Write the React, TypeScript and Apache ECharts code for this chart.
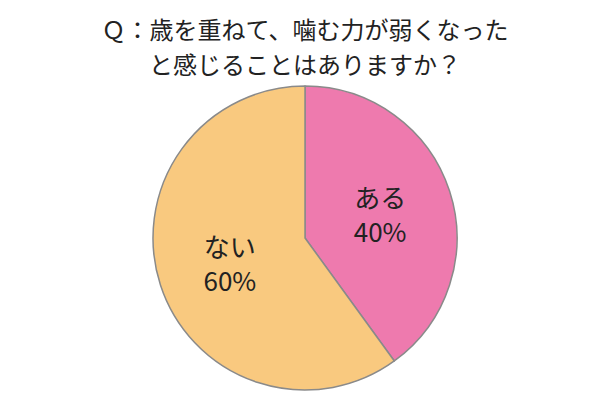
import React from 'react';
import * as echarts from 'echarts';

const titleLines = ['Ｑ：歳を重ねて、噛む力が弱くなった', 'と感じることはありますか？'];
const categories = ['ある', 'ない'];
const values = [40, 60];
const colors = ['#EE7AAE', '#F9C97F'];

const App = () => {
  const chartRef = React.useRef(null);

  React.useEffect(() => {
    const chart = echarts.init(chartRef.current, null, { renderer: 'svg' });
    chart.setOption({
      animation: false,
      backgroundColor: '#fff',
      // one title per line so the two lines sit at fixed offsets
      title: titleLines.map((line, i) => ({
        text: line,
        left: 'center',
        top: 5 + i * 35,
        padding: 0,
        textStyle: {
          fontFamily: 'Noto Sans CJK JP',
          fontSize: 24,
          fontWeight: 'normal',
          color: '#222',
          lineHeight: 30,
        },
      })),
      series: [
        {
          type: 'pie',
          center: [297, 230],
          radius: 152,
          startAngle: 90,
          clockwise: true,
          data: categories.map((name, i) => ({
            name,
            value: values[i],
            itemStyle: { color: colors[i] },
          })),
          itemStyle: { borderColor: '#8a8a8a', borderWidth: 1.5 },
          label: {
            position: 'inside',
            formatter: '{b}\n{d}%',
            fontFamily: 'Noto Sans CJK JP',
            fontSize: 26,
            lineHeight: 34,
            color: '#222',
          },
          labelLine: { show: false },
          emphasis: { disabled: true },
        },
      ],
    });
    return () => {
      chart.dispose();
    };
  }, []);

  return <div ref={chartRef} style={{ width: '594px', height: '384px' }} />;
};

export default App;
